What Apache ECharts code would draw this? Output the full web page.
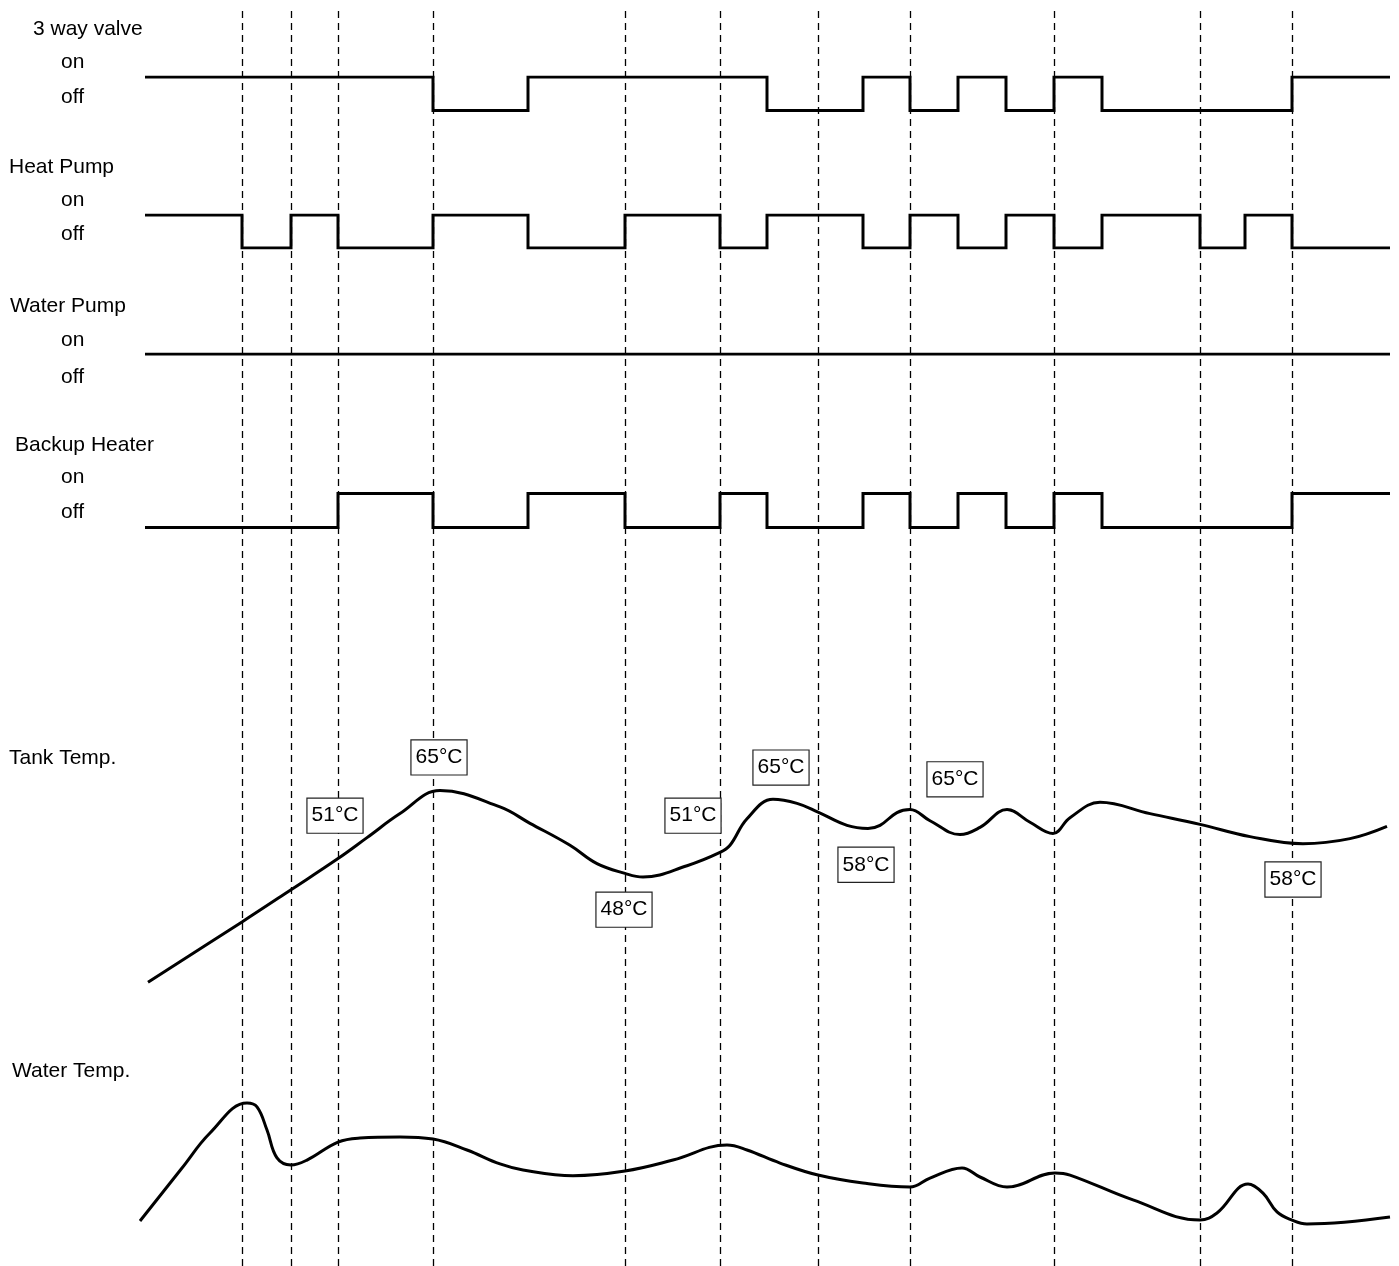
<!DOCTYPE html>
<html>
<head>
<meta charset="utf-8">
<script src="https://cdn.jsdelivr.net/npm/echarts@6/dist/echarts.min.js"></script>
<style>
  html, body { margin: 0; padding: 0; background: #fff; }
  #chart { width: 1399px; height: 1266px; }
</style>
</head>
<body>
<div id="chart"></div>
<script>
// ---- Data (time in arbitrary units, states 1 = on, 0 = off) ----
const eventTimes = [97, 146, 193, 288, 480, 575, 673, 765, 909, 1055, 1147];

const valveSteps  = [[0,1],[288,0],[383,1],[622,0],[718,1],[765,0],[813,1],[861,0],[909,1],[957,0],[1147,1],[1245,1]];
const heatPumpSteps = [[0,1],[97,0],[146,1],[193,0],[288,1],[383,0],[480,1],[575,0],[622,1],[718,0],[765,1],[813,0],[861,1],[909,0],[957,1],[1055,0],[1100,1],[1147,0],[1245,0]];
const waterPumpSteps = [[0,1],[1245,1]];
const backupSteps = [[0,0],[193,1],[288,0],[383,1],[480,0],[575,1],[622,0],[718,1],[765,0],[813,1],[861,0],[909,1],[957,0],[1147,1],[1245,1]];

// Tank temperature (°C, schematic)
const tankTemp = [
  [3,27.4],[97,39.2],[146,45.5],[193,51.6],[222,55.7],[255,60.4],[295,64.9],[355,61.7],
  [385,58.5],[425,54.2],[452,50.6],[480,48.7],[498,48.0],[542,50.2],[575,52.8],[585,54.2],
  [602,59.4],[628,63.2],[652,62.4],[673,60.7],[702,58.1],[723,57.5],[735,58.1],[752,60.6],
  [765,61.2],[785,59.0],[815,56.3],[835,57.7],[862,61.2],[885,58.7],[908,56.5],[925,59.6],
  [955,62.6],[1005,60.4],[1055,58.3],[1105,55.9],[1158,54.5],[1205,55.5],[1242,57.9]
];

// Water temperature (relative level, schematic)
const waterTemp = [
  [-5,12.7],[37,48],[65,71.3],[102,91.3],[112,88.7],[122,73.3],[132,54.7],[146,50],[162,53.3],
  [193,65.3],[215,68],[255,68.7],[288,67.3],[322,60],[355,50.7],[378,46.7],[428,42.9],[480,46],
  [528,53.3],[582,63.3],[602,60],[635,51.3],[673,43.3],[718,38],[765,35.3],[785,41.3],[817,48],
  [835,42],[862,35.3],[910,44.7],[925,43.3],[988,26.7],[1055,13.3],[1072,18],[1103,37.3],
  [1118,31.3],[1132,18.7],[1147,13.3],[1162,10.7],[1245,15.3]
];

// Temperature annotations (label text, time, °C position of the box centre)
const annoText = ['65°C','51°C','65°C','51°C','48°C','58°C','65°C','58°C'];
const annoTime = [294, 190, 636, 548, 479, 721, 810, 1148];
const annoTemp = [71.4, 60.0, 69.4, 60.0, 41.6, 50.4, 67.1, 47.5];

// Left-side labels
const rowTitles = ['3 way valve','Heat Pump','Water Pump','Backup Heater'];
const onOff = ['on','off'];

// ---- Chart ----
const FONT = '"Liberation Sans", Arial, Helvetica, sans-serif';
const chart = echarts.init(document.getElementById('chart'), null, {renderer: 'canvas'});

const L = 135, R = 9;
const grids = [
  {left:L, right:R, top:77,    height:33.5},
  {left:L, right:R, top:215,   height:33},
  {left:L, right:R, top:354,   height:34},
  {left:L, right:R, top:493.5, height:34},
  {left:L, right:R, top:739,   height:255.5},
  {left:L, right:R, top:1090,  height:150},
  {left:L, right:R, top:10,    bottom:0}
];
const yRanges = [[0,1],[0,1],[0,1],[0,1],[25,75],[0,100],[0,1]];

const xAxes = grids.map((g,i) => ({type:'value', gridIndex:i, min:-10, max:1245, show:false}));
const yAxes = grids.map((g,i) => ({type:'value', gridIndex:i, min:yRanges[i][0], max:yRanges[i][1], show:false}));

function stepSeries(data, i) {
  return {
    type:'line', xAxisIndex:i, yAxisIndex:i, data:data, step:'end',
    showSymbol:false, symbol:'none', z:3,
    lineStyle:{color:'#000', width:3, join:'miter'}, animation:false
  };
}
function curveSeries(data, i, extra) {
  return Object.assign({
    type:'line', xAxisIndex:i, yAxisIndex:i, data:data, smooth:0.4,
    showSymbol:false, symbol:'none', z:3,
    lineStyle:{color:'#000', width:3}, animation:false
  }, extra || {});
}

const series = [
  stepSeries(valveSteps, 0),
  stepSeries(heatPumpSteps, 1),
  stepSeries(waterPumpSteps, 2),
  stepSeries(backupSteps, 3),
  curveSeries(tankTemp, 4, {
    markPoint: {
      symbol:'rect', symbolSize:1, itemStyle:{color:'rgba(0,0,0,0)'}, silent:true, animation:false,
      label:{
        show:true, position:'inside', formatter:'{b}', color:'#000', fontSize:21, fontFamily:FONT,
        backgroundColor:'#fff', borderColor:'#222', borderWidth:1.2, padding:[5,4,5,4], lineHeight:24
      },
      data: annoText.map((t,k) => ({name:t, coord:[annoTime[k], annoTemp[k]]}))
    }
  }),
  curveSeries(waterTemp, 5),
  {
    type:'line', xAxisIndex:6, yAxisIndex:6, data:[[-10,0]], showSymbol:false, z:1,
    lineStyle:{opacity:0}, animation:false,
    markLine:{
      silent:true, symbol:['none','none'], animation:false, label:{show:false},
      lineStyle:{color:'#000', width:1.3, type:[7,5]},
      data: eventTimes.map(t => ({xAxis:t}))
    }
  }
];

const textEls = [];
function addText(txt, x, y) {
  textEls.push({type:'text', x:x, y:y, z:10, style:{text:txt, fill:'#000', font:'21px ' + FONT, verticalAlign:'middle', align:'left'}});
}
const titleX = [33, 9, 10, 15], titleY = [29, 167, 306, 445];
const onY = [62, 200, 340, 477], offY = [97, 234, 377, 512];
rowTitles.forEach((t,i) => {
  addText(t, titleX[i], titleY[i]);
  addText(onOff[0], 61, onY[i]);
  addText(onOff[1], 61, offY[i]);
});
addText('Tank Temp.', 9, 758);
addText('Water Temp.', 12, 1071);

chart.setOption({
  backgroundColor:'#fff',
  animation:false,
  grid: grids,
  xAxis: xAxes,
  yAxis: yAxes,
  series: series,
  graphic: textEls
});
</script>
</body>
</html>
